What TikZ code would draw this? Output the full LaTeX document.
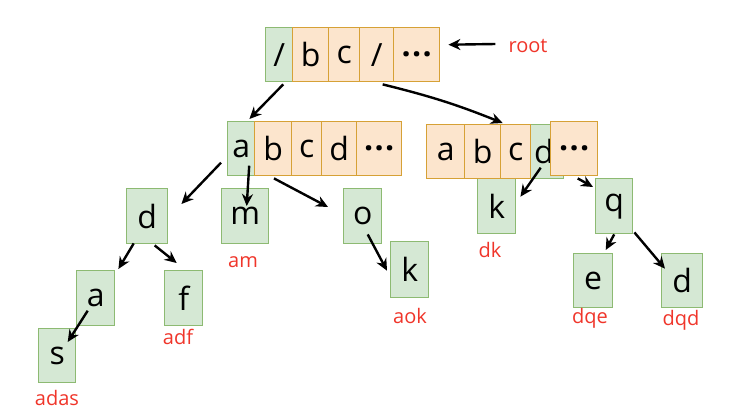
\documentclass[tikz,border=0pt]{standalone}
\usepackage{fontspec}
\setmainfont{Open Sans}
\usetikzlibrary{arrows.meta,calc}
\definecolor{gfill}{HTML}{D5E8D4}
\definecolor{gdraw}{HTML}{8DBA72}
\definecolor{ofill}{HTML}{FCE5CD}
\definecolor{odraw}{HTML}{D6A136}
\definecolor{lred}{HTML}{F0352A}
\newcommand\bigf{\fontsize{32}{38}\selectfont}
\newcommand\lblf{\fontsize{20}{24}\selectfont}
\newcommand\dotsx{\textbf{{.}\kern1.5pt{.}\kern1.5pt{.}}}
\tikzset{
  gbox/.style={draw=gdraw, fill=gfill, line width=1.4pt, inner sep=0pt, anchor=north west, font=\bigf, text=black},
  obox/.style={draw=odraw, fill=ofill, line width=1.4pt, inner sep=0pt, anchor=north west, font=\bigf, text=black},
  lbl/.style={text=lred, font=\lblf, inner sep=0pt},
  arr/.style={line width=2.4pt, -{Stealth[length=12pt,width=11pt]}}
}
\begin{document}
\begin{tikzpicture}[x=1pt,y=-1pt]
\useasboundingbox[fill=white] (0,0) rectangle (736,416);
% root row
\node[gbox, minimum width=27pt, minimum height=54pt] (r0) at (265,27) {/};
\node[obox, minimum width=36pt, minimum height=54pt] (r1) at (292,27) {b};
\node[obox, minimum width=31pt, minimum height=54pt] (r2) at (328,27) {c};
\node[obox, minimum width=34pt, minimum height=54pt] (r3) at (359,27) {/};
\node[obox, minimum width=46pt, minimum height=54pt] (r4) at (393,27) {\dotsx};
\node[lbl] (rootlbl) at (528,46) {root};
% left level 2
\node[gbox, minimum width=27pt, minimum height=54pt] (L0) at (227,121) {a};
\node[obox, minimum width=37pt, minimum height=54pt] (L1) at (254,121) {b};
\node[obox, minimum width=30pt, minimum height=54pt] (L2) at (291,121) {c};
\node[obox, minimum width=35pt, minimum height=54pt] (L3) at (321,121) {d};
\node[obox, minimum width=45pt, minimum height=54pt] (L4) at (356,121) {\dotsx};
% right level 2
\node[gbox, minimum width=38pt, minimum height=55pt] (k2) at (477,178) {k};
\node[gbox, minimum width=33pt, minimum height=54pt, text width=26pt, align=left] (R3) at (530,124) {d};
\node[obox, minimum width=38pt, minimum height=54pt] (R0) at (426,124) {a};
\node[obox, minimum width=36pt, minimum height=54pt] (R1) at (464,124) {b};
\node[obox, minimum width=30pt, minimum height=54pt] (R2) at (500,124) {c};
\node[obox, minimum width=47pt, minimum height=54pt] (R4) at (550,121) {\dotsx};
% leaves
\node[gbox, minimum width=47pt, minimum height=55pt] (m) at (221,188) {m};
\node[gbox, minimum width=38pt, minimum height=55pt] (o) at (343,188) {o};
\node[gbox, minimum width=38pt, minimum height=56pt] (k1) at (390,241) {k};
\node[gbox, minimum width=41pt, minimum height=55pt] (d1) at (126,188) {d};
\node[gbox, minimum width=38pt, minimum height=55pt] (a1) at (76,270) {a};
\node[gbox, minimum width=38pt, minimum height=55pt] (f) at (164,270) {f};
\node[gbox, minimum width=37pt, minimum height=54pt] (s) at (38,328) {s};
\node[gbox, minimum width=37pt, minimum height=55pt] (q) at (595,178) {q};
\node[gbox, minimum width=39pt, minimum height=54pt] (e) at (573,253) {e};
\node[gbox, minimum width=41pt, minimum height=54pt] (d2) at (661,253) {d};
% labels
\node[lbl] (lam) at (243,262) {am};
\node[lbl] (laok) at (410,316) {aok};
\node[lbl] (ldk) at (490,250) {dk};
\node[lbl] (ldqe) at (590,318) {dqe};
\node[lbl] (ldqd) at (681,320) {dqd};
\node[lbl] (ladf) at (178,337) {adf};
\node[lbl] (ladas) at (57,398) {adas};
% arrows
\draw[arr] ($(rootlbl.west)+(-13,-2)$) -- ($(r4.east)+(8,-10)$);
\draw[arr] ($(r0.south)+(4,2)$) -- ($(L0.north east)+(-6,-2)$);
\draw[arr] ($(r3.south)+(6,2)$) to[bend left=4] ($(R2.north)+(-13,-1)$);
\draw[arr] ($(L0.west)+(-6,14)$) -- ($(d1.north east)+(13,16)$);
\draw[arr] ($(L0.center)+(8,17)$) -- ($(m.north)+(1.5,18)$);
\draw[arr] ($(L1.south west)+(20,2)$) -- ($(o.north west)+(-15,19)$);
\draw[arr] ($(o.south)+(5,-10)$) -- ($(k1.west)+(-3,1)$);
\draw[arr] ($(d1.south)+(-13.5,-1)$) -- ($(a1.north east)+(3,-1)$);
\draw[arr] ($(d1.south)+(7.5,1)$) -- ($(f.north)+(-7,-7)$);
\draw[arr] ($(a1.center)+(-8,12.5)$) -- ($(s.north)+(10.5,14)$);
\draw[arr] ($(R3.center)+(-6.5,16)$) -- ($(k2.east)+(4,-9.5)$);
\draw[arr] ($(R4.south)+(3.5,2)$) -- ($(q.north west)+(-2,9)$);
\draw[arr] (q.south) -- ($(e.north)+(12.5,-3)$);
\draw[arr] ($(q.south east)+(1,-2)$) -- ($(d2.west)+(4,-12)$);
\end{tikzpicture}
\end{document}
